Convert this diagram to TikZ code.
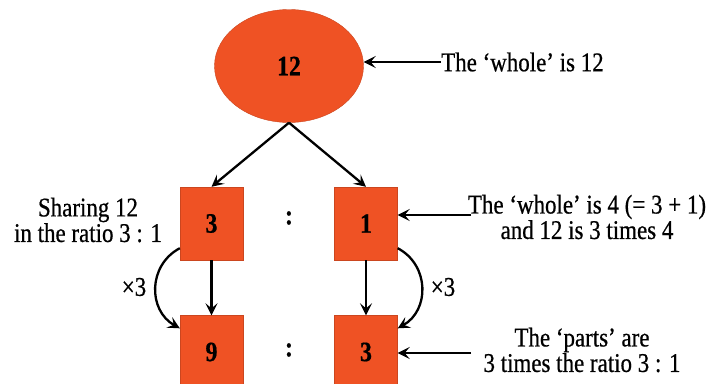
\documentclass[tikz,border=0pt]{standalone}
\usepackage{fontspec}
\setmainfont{Liberation Serif}[FakeStretch=0.85,FakeBold=0.6]
\usetikzlibrary{shapes.geometric,arrows.meta}
\definecolor{orng}{HTML}{EF5224}
\begin{document}
\begin{tikzpicture}[x=1pt,y=-1pt,
  every node/.style={font=\fontsize{27}{21}\selectfont},
  numfont/.style={font=\bfseries\fontsize{28}{28}\selectfont},
  box/.style={rectangle, fill=orng, draw=orng!85!black, line width=0.4pt,
    minimum width=63pt, minimum height=73pt, inner sep=0pt, numfont},
  arr/.style={line width=2.3pt, -{Stealth[length=12pt,width=12pt,inset=5pt]}},
  lbl/.style={align=center, inner sep=0pt}]
\clip (0,0) rectangle (709,383);
\node[ellipse, fill=orng, draw=orng!85!black, line width=0.4pt,
  minimum width=149pt, minimum height=113pt, inner sep=0pt, numfont] (w) at (289,66) {12};
\node[box] (a) at (211.5,223.5) {3};
\node[box] (b) at (366,223.5) {1};
\node[box] (c) at (211.5,352) {9};
\node[box] (d) at (366,352) {3};
\node[numfont] (k1) at (289,218) {:};
\node[numfont] (k2) at (289,350) {:};
% top arrows
\draw[arr] (w.south) -- (a.north);
\draw[arr] (w.south) -- (b.north);
\draw[arr] (a.south) -- (c.north);
\draw[arr] (b.south) -- (d.north);
% curved arrows
\draw[arr] ([yshift=12pt]a.south west) .. controls +(-32,17) and +(-32,-18) .. ([yshift=-13pt]c.north west);
\draw[arr] ([yshift=12pt]b.south east) .. controls +(32,17) and +(32,-18) .. ([yshift=-13pt]d.north east);
\node[lbl] (m1) at (134,287) {×3};
\node[lbl] (m2) at (443,287) {×3};
% left text
\node[lbl] (s) at (88,220) {Sharing 12\\in the ratio 3 : 1};
% right texts
\node[lbl, anchor=west] (t1) at (441,62) {The `whole' is 12};
\draw[arr] (t1.west) -- (w.east |- t1.west);
\node[lbl] (t2) at (587,217) {The `whole' is 4 (= 3 + 1)\\and 12 is 3 times 4};
\coordinate (e2) at (471,215);
\draw[arr] (e2) -- (b.east |- e2);
\node[lbl] (t3) at (582,350) {The `parts' are\\3 times the ratio 3 : 1};
\coordinate (e3) at (471,353);
\draw[arr] (e3) -- (d.east |- e3);
\end{tikzpicture}
\end{document}
